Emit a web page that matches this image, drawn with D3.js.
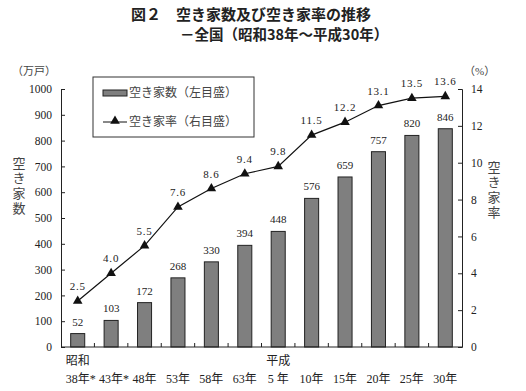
<!DOCTYPE html>
<html>
<head>
<meta charset="utf-8">
<script src="https://cdn.jsdelivr.net/npm/d3@7"></script>
<style>
  body { margin: 0; background: #fff; }
  text { font-family: "Liberation Serif", "Noto Sans CJK JP", serif; fill: #222; }
</style>
</head>
<body>
<script>
var w = 526;
var h = 391;

var years = ["38年*", "43年*", "48年", "53年", "58年", "63年", "5 年", "10年", "15年", "20年", "25年", "30年"];
var eras = ["昭和", "", "", "", "", "", "平成", "", "", "", "", ""];
var houses = [52, 103, 172, 268, 330, 394, 448, 576, 659, 757, 820, 846];
var rates = [2.5, 4.0, 5.5, 7.6, 8.6, 9.4, 9.8, 11.5, 12.2, 13.1, 13.5, 13.6];
var leftTicks = [0, 100, 200, 300, 400, 500, 600, 700, 800, 900, 1000];
var rightTicks = [0, 2, 4, 6, 8, 10, 12, 14];

var pl = 61, pr = 462, pt = 89, pb = 347;

var svg = d3.select("body").append("svg").attr("width", w).attr("height", h);

var x = d3.scaleBand().domain(d3.range(years.length)).range([pl, pr]).paddingInner(0.58).paddingOuter(0.29);
var band = (pr - pl) / years.length;
var yL = d3.scaleLinear().domain([0, 1000]).range([pb, pt]);
var yR = d3.scaleLinear().domain([0, 14]).range([pb, pt]);

// title
svg.append("text").attr("x", 251).attr("y", 20).attr("text-anchor", "middle")
  .attr("font-size", 15).attr("font-weight", "bold")
  .style("font-family", "'Noto Sans CJK JP', sans-serif")
  .text("図２　空き家数及び空き家率の推移");
svg.append("text").attr("x", 180).attr("y", 40)
  .attr("font-size", 14.5).attr("font-weight", "bold")
  .style("font-family", "'Noto Sans CJK JP', sans-serif")
  .text("－全国（昭和38年～平成30年）");

// unit labels
svg.append("text").attr("x", 12).attr("y", 75).attr("font-size", 11).style("fill", "#444").text("（万戸）");
svg.append("text").attr("x", 464).attr("y", 75).attr("font-size", 11).style("fill", "#444").text("（%）");

// vertical axis titles
function vtext(str, xx, y0) {
  str.split("").forEach(function (c, i) {
    svg.append("text").attr("x", xx).attr("y", y0 + i * 15).attr("text-anchor", "middle")
      .attr("font-size", 13).style("fill", "#444").text(c);
  });
}
vtext("空き家数", 19, 168);
vtext("空き家率", 494, 172);

// bars
svg.selectAll("rect.bar").data(houses).enter().append("rect")
  .attr("class", "bar")
  .attr("x", function (d, i) { return x(i); })
  .attr("y", function (d) { return yL(d); })
  .attr("width", x.bandwidth())
  .attr("height", function (d) { return pb - yL(d); })
  .attr("fill", "#7f7f7f").attr("stroke", "#222").attr("stroke-width", 1);

svg.selectAll("text.blab").data(houses).enter().append("text")
  .attr("class", "blab")
  .attr("x", function (d, i) { return x(i) + x.bandwidth() / 2; })
  .attr("y", function (d) { return yL(d) - 8; })
  .attr("text-anchor", "middle").attr("font-size", 11)
  .text(function (d) { return d; });

// axes
var gL = svg.append("g").attr("transform", "translate(" + pl + ",0)")
  .call(d3.axisLeft(yL).tickValues(leftTicks).tickFormat(d3.format("d")).tickSize(-4).tickPadding(9));
var gR = svg.append("g").attr("transform", "translate(" + pr + ",0)")
  .call(d3.axisRight(yR).tickValues(rightTicks).tickFormat(d3.format("d")).tickSize(-4).tickPadding(9));
[gL, gR].forEach(function (g) {
  g.selectAll("text").attr("font-size", 11.5).style("font-family", "'Liberation Serif', serif");
  g.select(".domain").attr("stroke", "#222");
  g.selectAll("line").attr("stroke", "#222");
});

var gX = svg.append("g").attr("transform", "translate(0," + pb + ")");
gX.append("line").attr("x1", pl).attr("x2", pr).attr("stroke", "#222");
gX.selectAll("line.tk").data(d3.range(1, years.length)).enter().append("line")
  .attr("class", "tk")
  .attr("x1", function (d) { return pl + d * band; })
  .attr("x2", function (d) { return pl + d * band; })
  .attr("y1", 0).attr("y2", -4).attr("stroke", "#222");

svg.selectAll("text.era").data(eras).enter().append("text")
  .attr("class", "era")
  .attr("x", function (d, i) { return x(i) + x.bandwidth() / 2; })
  .attr("y", 365).attr("text-anchor", "middle").attr("font-size", 12)
  .text(function (d) { return d; });
svg.selectAll("text.yr").data(years).enter().append("text")
  .attr("class", "yr")
  .attr("x", function (d, i) { return x(i) + x.bandwidth() / 2 + (d.indexOf("*") >= 0 ? 3 : 0); })
  .attr("y", 383).attr("text-anchor", "middle").attr("font-size", 12)
  .text(function (d) { return d; });

// rate line
var line = d3.line()
  .x(function (d, i) { return x(i) + x.bandwidth() / 2; })
  .y(function (d) { return yR(d); });
svg.append("path").datum(rates).attr("d", line)
  .attr("fill", "none").attr("stroke", "#111").attr("stroke-width", 1.2);

var tri = d3.symbol().type(d3.symbolTriangle).size(40);
svg.selectAll("path.pt").data(rates).enter().append("path")
  .attr("class", "pt")
  .attr("d", tri)
  .attr("transform", function (d, i) { return "translate(" + (x(i) + x.bandwidth() / 2) + "," + yR(d) + ")"; })
  .attr("fill", "#111");

svg.selectAll("text.rlab").data(rates).enter().append("text")
  .attr("class", "rlab")
  .attr("x", function (d, i) { return x(i) + x.bandwidth() / 2; })
  .attr("y", function (d) { return yR(d) - 11; })
  .attr("text-anchor", "middle").attr("font-size", 11)
  .attr("letter-spacing", 0.8)
  .text(function (d) { return d.toFixed(1); });

// legend
var lg = svg.append("g");
lg.append("rect").attr("x", 93).attr("y", 77).attr("width", 161).attr("height", 60)
  .attr("fill", "#fff").attr("stroke", "#333");
lg.append("rect").attr("x", 103).attr("y", 90).attr("width", 24).attr("height", 6)
  .attr("fill", "#7f7f7f").attr("stroke", "#222");
lg.append("text").attr("x", 129).attr("y", 97).attr("font-size", 12).style("fill", "#444").text("空き家数（左目盛）");
lg.append("line").attr("x1", 103).attr("x2", 127).attr("y1", 122).attr("y2", 122).attr("stroke", "#111");
lg.append("path").attr("d", tri).attr("transform", "translate(115,121)").attr("fill", "#111");
lg.append("text").attr("x", 129).attr("y", 126).attr("font-size", 12).style("fill", "#444").text("空き家率（右目盛）");
</script>
</body>
</html>
